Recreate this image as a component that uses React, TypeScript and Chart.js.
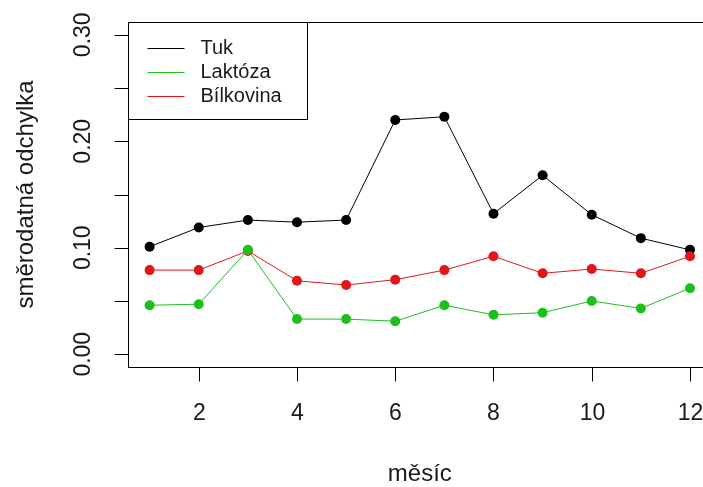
import React, { useEffect, useRef } from "react";
import { Chart, registerables } from "chart.js";

Chart.register(...registerables);

// months on the x axis
const months = [1, 2, 3, 4, 5, 6, 7, 8, 9, 10, 11, 12];

// standard deviation per month
const tuk = [0.101, 0.119, 0.126, 0.124, 0.126, 0.220, 0.223, 0.132, 0.168, 0.131, 0.109, 0.098];
const laktoza = [0.046, 0.047, 0.098, 0.033, 0.033, 0.031, 0.046, 0.037, 0.039, 0.050, 0.043, 0.062];
const bilkovina = [0.079, 0.079, 0.097, 0.069, 0.065, 0.070, 0.079, 0.092, 0.076, 0.080, 0.076, 0.092];

const seriesNames = ["Tuk", "Laktóza", "Bílkovina"];
const seriesColors = ["#000000", "#1cbf1c", "#e0161b"];

const xTicks = [2, 4, 6, 8, 10, 12];
const yTicks = [0, 0.05, 0.1, 0.15, 0.2, 0.25, 0.3];
const yLabelTicks = [0, 0.1, 0.2, 0.3];

const xTitle = "měsíc";
const yTitle = "směrodatná odchylka";

const FONT = '"Liberation Sans", Arial, sans-serif';

const rAxesPlugin = {
  id: "rAxes",
  afterDraw(chart: any) {
    const ctx = chart.ctx as CanvasRenderingContext2D;
    const area = chart.chartArea;
    const xs = chart.scales.x;
    const ys = chart.scales.y;
    ctx.save();
    ctx.strokeStyle = "#000";
    ctx.fillStyle = "#1a1a1a";
    ctx.lineWidth = 1;

    // plot box
    ctx.strokeRect(Math.round(area.left) + 0.5, Math.round(area.top) + 0.5, area.right - area.left, Math.round(area.bottom - area.top));

    const tickLen = 14;
    const bottom = Math.round(area.bottom) + 0.5;
    const left = Math.round(area.left) + 0.5;

    // x ticks and labels
    ctx.font = `23px ${FONT}`;
    ctx.textAlign = "center";
    ctx.textBaseline = "middle";
    for (const v of xTicks) {
      const px = Math.round(xs.getPixelForValue(v)) + 0.5;
      ctx.beginPath();
      ctx.moveTo(px, bottom);
      ctx.lineTo(px, bottom + tickLen);
      ctx.stroke();
      ctx.fillText(String(v), px, bottom + 46);
    }

    // y ticks and rotated labels
    for (const v of yTicks) {
      const py = Math.round(ys.getPixelForValue(v)) + 0.5;
      ctx.beginPath();
      ctx.moveTo(left, py);
      ctx.lineTo(left - tickLen, py);
      ctx.stroke();
    }
    for (const v of yLabelTicks) {
      const py = ys.getPixelForValue(v);
      ctx.save();
      ctx.translate(left - 45, py);
      ctx.rotate(-Math.PI / 2);
      ctx.fillText(v.toFixed(2), 0, 0);
      ctx.restore();
    }

    // axis titles
    ctx.font = `24px ${FONT}`;
    ctx.fillText(xTitle, (area.left + area.right) / 2, 474);
    ctx.save();
    ctx.translate(26, (area.top + area.bottom) / 2);
    ctx.rotate(-Math.PI / 2);
    ctx.fillText(yTitle, 0, 0);
    ctx.restore();

    // legend
    const lx = left;
    const ly = Math.round(area.top) + 0.5;
    ctx.strokeStyle = "#000";
    ctx.strokeRect(lx, ly, 179, 97);
    ctx.font = `20px ${FONT}`;
    ctx.textAlign = "left";
    seriesNames.forEach((name, i) => {
      const y = ly + 25 + i * 24;
      ctx.strokeStyle = seriesColors[i];
      ctx.beginPath();
      ctx.moveTo(lx + 19, Math.round(y) + 0.5);
      ctx.lineTo(lx + 56, Math.round(y) + 0.5);
      ctx.stroke();
      ctx.fillStyle = "#1a1a1a";
      ctx.fillText(name, lx + 72, y + 1);
    });
    ctx.restore();
  },
};

export default function App() {
  const ref = useRef<HTMLCanvasElement | null>(null);

  useEffect(() => {
    if (!ref.current) return;
    const mk = (vals: number[]) => months.map((m, i) => ({ x: m, y: vals[i] }));
    const data = [tuk, laktoza, bilkovina];
    const order = [2, 0, 1];
    const chart = new Chart(ref.current, {
      type: "line",
      data: {
        datasets: data.map((vals, i) => ({
          label: seriesNames[i],
          data: mk(vals),
          borderColor: seriesColors[i],
          backgroundColor: seriesColors[i],
          pointBackgroundColor: seriesColors[i],
          pointBorderColor: seriesColors[i],
          borderWidth: 1,
          pointRadius: 5,
          pointBorderWidth: 0,
          tension: 0,
          fill: false,
          order: order[i],
        })),
      },
      options: {
        responsive: false,
        animation: false,
        devicePixelRatio: 1,
        layout: { padding: { left: 128, top: 22, right: 18.4, bottom: 120 } },
        plugins: { legend: { display: false }, tooltip: { enabled: false } },
        scales: {
          x: { type: "linear", min: 0.56, max: 12.44, display: false },
          y: { type: "linear", min: -0.012, max: 0.312, display: false },
        },
      },
      plugins: [rAxesPlugin],
    });
    return () => chart.destroy();
  }, []);

  return (
    <div style={{ position: "fixed", left: 0, top: 0, width: 703, height: 487, overflow: "hidden", background: "#fff" }}>
      <canvas ref={ref} width={730} height={487} style={{ width: 730, height: 487, display: "block" }} />
    </div>
  );
}
